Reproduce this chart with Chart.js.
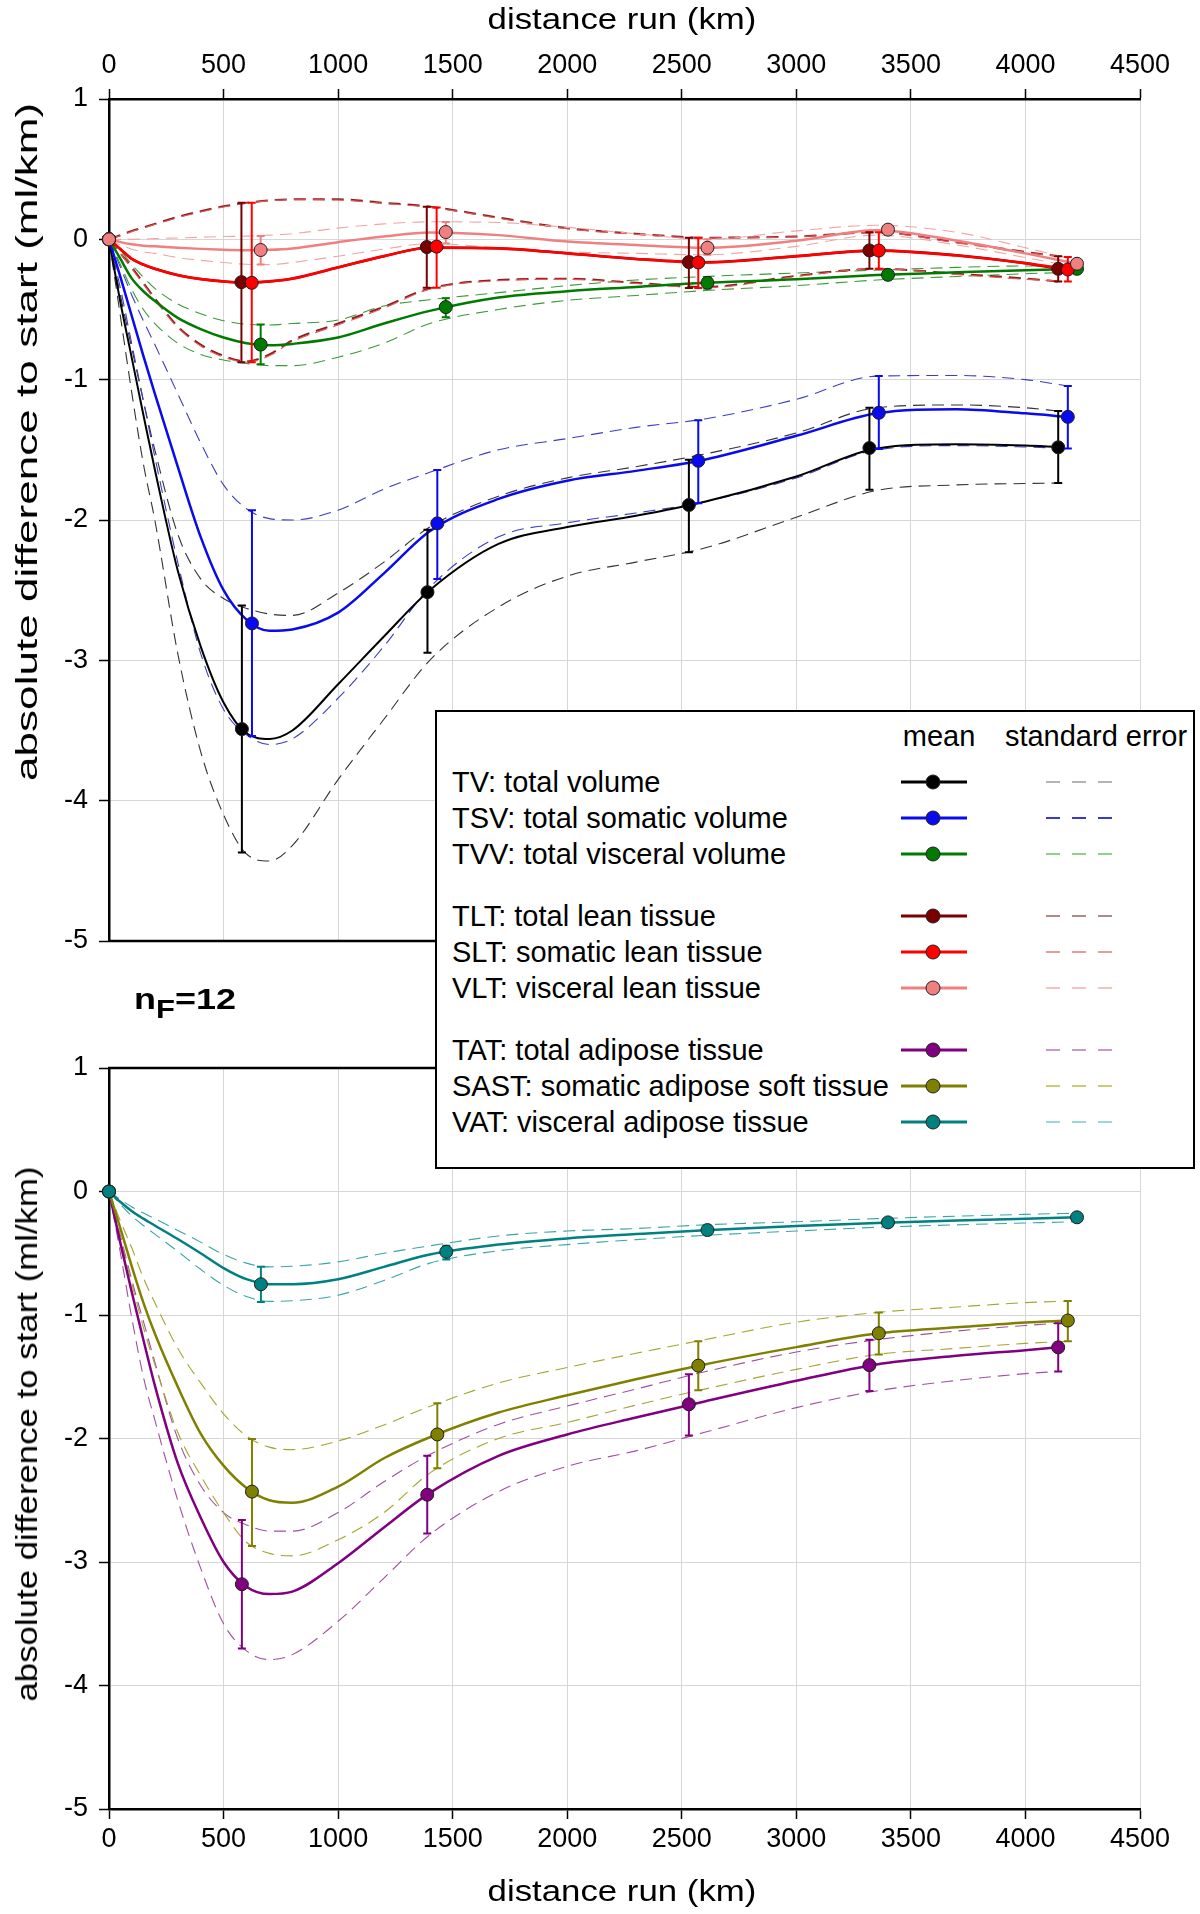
<!DOCTYPE html>
<html>
<head>
<meta charset="utf-8">
<title>distance run</title>
<script src="https://cdn.jsdelivr.net/npm/chart.js@4.4.1/dist/chart.umd.min.js"></script>
<style>
  body { margin: 0; background: #fff; font-family: 'Liberation Sans', Arial, sans-serif; }
  #page { position: relative; width: 1200px; height: 1914px; overflow: hidden; background: #fff; }
  canvas { position: absolute; left: 0; }
  #topChart { top: 0; }
  #bottomChart { top: 960px; }
  .lbl { position: absolute; white-space: nowrap; color: #000; line-height: 1; }
  .xtitle { font-size: 30px; transform: translate(-50%, -50%) scaleX(1.16); }
  .ytitle { font-size: 30px; }
  #legend { position: absolute; left: 435px; top: 710px; width: 756px; height: 455px;
            border: 2px solid #000; background: #fff; z-index: 5; }
  .lg { position: absolute; white-space: nowrap; font-size: 29px; line-height: 1; transform: translateY(-50%); }
  .lg-line { position: absolute; height: 3px; transform: translateY(-50%); }
  .lg-dot { position: absolute; width: 13px; height: 13px; border-radius: 50%; border: 1px solid #222;
            transform: translate(-50%, -50%); }
  .lg-dash { position: absolute; height: 2px; transform: translateY(-50%); }
  #nf { position: absolute; left: 134px; top: 985px; font-size: 29px; font-weight: bold; line-height: 1;
        transform: scaleX(1.24); transform-origin: left center; }
  #nf sub { font-size: 25px; vertical-align: -9px; }
</style>
</head>
<body>
<div id="page">
  <canvas id="topChart" width="1200" height="960"></canvas>
  <canvas id="bottomChart" width="1200" height="954"></canvas>

  <div class="lbl xtitle" style="left:622px; top:19px;">distance run (km)</div>
  <div class="lbl xtitle" style="left:622px; top:1891px;">distance run (km)</div>
  <div class="lbl ytitle" style="left:27px; top:442px; transform: translate(-50%, -50%) rotate(-90deg) scaleX(1.47);">absolute difference to start (ml/km)</div>
  <div class="lbl ytitle" style="left:27px; top:1434px; transform: translate(-50%, -50%) rotate(-90deg) scaleX(1.16);">absolute difference to start (ml/km)</div>
  <div id="nf">n<sub>F</sub>=12</div>

  <div id="legend"></div>
</div>

<script>
// grille commune (km) pour les courbes lissées ; le dernier point = dernière mesure de la série
const kmGrid = [0, 50, 100, 150, 200, 300, 400, 500, 600, 700, 800, 1000, 1200, 1400, 1700, 2000, 2300, 2600, 3000, 3350, 3700, 4000];
const xTicks = [0, 500, 1000, 1500, 2000, 2500, 3000, 3500, 4000, 4500];
const yTicks = [1, 0, -1, -2, -3, -4, -5];

// --- TV: total volume
const tvX      = [0, 580, 1390, 2531, 3319, 4143];
const tvMean   = [0, -3.49, -2.514, -1.893, -1.487, -1.482];
const tvErrHi  = [0, -2.61, -2.07, -1.57, -1.2, -1.224];
const tvErrLo  = [0, -4.37, -2.946, -2.23, -1.785, -1.737];
const tvCurve  = [0, -0.45, -0.85, -1.25, -1.64, -2.36, -2.9, -3.3, -3.52, -3.56, -3.5, -3.17, -2.83, -2.5, -2.17, -2.05, -1.97, -1.87, -1.69, -1.49, -1.46, -1.47, -1.48];
const tvSeHi   = [0, -0.4, -0.78, -1.15, -1.5, -2.1, -2.42, -2.56, -2.63, -2.67, -2.68, -2.52, -2.3, -2.05, -1.83, -1.7, -1.62, -1.53, -1.38, -1.2, -1.18, -1.2, -1.224];
const tvSeLo   = [0, -0.55, -1.1, -1.6, -2.0, -2.95, -3.65, -4.1, -4.38, -4.43, -4.32, -3.85, -3.42, -3.0, -2.62, -2.4, -2.3, -2.2, -1.98, -1.79, -1.75, -1.74, -1.737];

// --- TSV: total somatic volume
const tsvX     = [0, 624, 1433, 2572, 3360, 4185];
const tsvMean  = [0, -2.737, -2.024, -1.578, -1.236, -1.265];
const tsvErrHi = [0, -1.93, -1.643, -1.289, -0.974, -1.045];
const tsvErrLo = [0, -3.54, -2.42, -1.88, -1.494, -1.49];
const tsvCurve = [0, -0.27, -0.55, -0.83, -1.1, -1.62, -2.12, -2.5, -2.71, -2.79, -2.78, -2.66, -2.38, -2.08, -1.85, -1.72, -1.65, -1.57, -1.4, -1.24, -1.21, -1.24, -1.265];
const tsvSeHi  = [0, -0.2, -0.4, -0.58, -0.75, -1.1, -1.45, -1.75, -1.92, -1.99, -2.0, -1.93, -1.78, -1.66, -1.5, -1.42, -1.34, -1.28, -1.14, -0.975, -0.97, -1.0, -1.045];
const tsvSeLo  = [0, -0.35, -0.75, -1.15, -1.55, -2.3, -2.95, -3.35, -3.53, -3.6, -3.56, -3.27, -2.9, -2.48, -2.12, -2.02, -1.95, -1.87, -1.7, -1.5, -1.47, -1.48, -1.49];

// --- TVV: total visceral volume
const tvvX     = [0, 662, 1470, 2612, 3400, 4225];
const tvvMean  = [0, -0.75, -0.483, -0.31, -0.253, -0.21];
const tvvErrHi = [0, -0.607, -0.42, -0.27, -0.22, -0.19];
const tvvErrLo = [0, -0.89, -0.555, -0.35, -0.285, -0.235];
const tvvCurve = [0, -0.14, -0.28, -0.37, -0.44, -0.56, -0.64, -0.7, -0.74, -0.755, -0.745, -0.7, -0.6, -0.51, -0.415, -0.37, -0.34, -0.31, -0.285, -0.255, -0.235, -0.22, -0.21];
const tvvSeHi  = [0, -0.08, -0.18, -0.27, -0.35, -0.46, -0.53, -0.58, -0.605, -0.61, -0.6, -0.575, -0.475, -0.43, -0.38, -0.33, -0.29, -0.265, -0.24, -0.22, -0.2, -0.19, -0.19];
const tvvSeLo  = [0, -0.18, -0.36, -0.5, -0.6, -0.74, -0.82, -0.86, -0.885, -0.9, -0.9, -0.84, -0.74, -0.6, -0.5, -0.435, -0.4, -0.365, -0.33, -0.29, -0.265, -0.245, -0.234];

// --- TLT: total lean tissue
const tltX     = [0, 578, 1387, 2531, 3319, 4143];
const tltMean  = [0, -0.305, -0.055, -0.162, -0.079, -0.21];
const tltErrHi = [0, 0.26, 0.233, 0.012, 0.05, -0.12];
const tltErrLo = [0, -0.876, -0.345, -0.346, -0.21, -0.3];
const tltCurve = [0, -0.07, -0.14, -0.18, -0.21, -0.255, -0.283, -0.3, -0.308, -0.3, -0.28, -0.2, -0.12, -0.058, -0.063, -0.1, -0.14, -0.163, -0.12, -0.079, -0.113, -0.17, -0.21];
const tltSeHi  = [0, 0.03, 0.06, 0.085, 0.11, 0.16, 0.2, 0.235, 0.26, 0.278, 0.285, 0.285, 0.26, 0.233, 0.155, 0.08, 0.04, 0.012, 0.02, 0.05, -0.02, -0.09, -0.12];
const tltSeLo  = [0, -0.1, -0.2, -0.31, -0.42, -0.62, -0.75, -0.83, -0.87, -0.82, -0.72, -0.6, -0.48, -0.35, -0.29, -0.28, -0.31, -0.34, -0.26, -0.21, -0.245, -0.28, -0.3];

// --- SLT: somatic lean tissue
const sltX     = [0, 623, 1430, 2572, 3360, 4185];
const sltMean  = [0, -0.31, -0.052, -0.165, -0.08, -0.215];
const sltErrHi = [0, 0.26, 0.226, 0.012, 0.05, -0.126];
const sltErrLo = [0, -0.876, -0.345, -0.346, -0.21, -0.3];
const sltCurve = [0, -0.07, -0.14, -0.18, -0.21, -0.255, -0.283, -0.3, -0.31, -0.3, -0.28, -0.2, -0.12, -0.06, -0.065, -0.1, -0.14, -0.165, -0.12, -0.08, -0.115, -0.17, -0.215];
const sltSeHi  = [0, 0.025, 0.055, 0.08, 0.105, 0.155, 0.195, 0.23, 0.258, 0.275, 0.282, 0.28, 0.255, 0.228, 0.15, 0.075, 0.035, 0.01, 0.018, 0.048, -0.025, -0.095, -0.126];
const sltSeLo  = [0, -0.1, -0.21, -0.32, -0.43, -0.63, -0.76, -0.84, -0.876, -0.83, -0.73, -0.61, -0.49, -0.355, -0.295, -0.285, -0.315, -0.345, -0.265, -0.21, -0.25, -0.285, -0.3];

// --- VLT: visceral lean tissue
const vltX     = [0, 662, 1470, 2612, 3400, 4225];
const vltMean  = [0, -0.076, 0.052, -0.06, 0.069, -0.174];
const vltErrHi = [0, 0.024, 0.124, 0.0, 0.1, -0.15];
const vltErrLo = [0, -0.18, -0.03, -0.11, 0.03, -0.2];
const vltCurve = [0, -0.02, -0.035, -0.045, -0.05, -0.06, -0.068, -0.074, -0.077, -0.075, -0.065, -0.02, 0.02, 0.048, 0.03, -0.015, -0.04, -0.06, -0.01, 0.065, -0.01, -0.1, -0.174];
const vltSeHi  = [0, 0.0, 0.0, 0.003, 0.005, 0.01, 0.015, 0.02, 0.023, 0.03, 0.04, 0.08, 0.11, 0.125, 0.12, 0.085, 0.04, 0.0, 0.06, 0.1, 0.05, -0.06, -0.15];
const vltSeLo  = [0, -0.04, -0.07, -0.09, -0.1, -0.13, -0.15, -0.165, -0.178, -0.18, -0.165, -0.12, -0.07, -0.03, -0.06, -0.09, -0.1, -0.11, -0.05, 0.03, -0.04, -0.13, -0.2];

// --- TAT: total adipose tissue
const tatX     = [0, 580, 1389, 2531, 3319, 4143];
const tatMean  = [0, -3.18, -2.455, -1.723, -1.406, -1.262];
const tatErrHi = [0, -2.66, -2.14, -1.479, -1.2, -1.066];
const tatErrLo = [0, -3.7, -2.77, -1.976, -1.615, -1.457];
const tatCurve = [0, -0.42, -0.82, -1.2, -1.57, -2.2, -2.64, -3.0, -3.2, -3.26, -3.24, -3.01, -2.72, -2.44, -2.14, -1.967, -1.83, -1.7, -1.533, -1.4, -1.33, -1.285, -1.262];
const tatSeHi  = [0, -0.36, -0.72, -1.05, -1.38, -2.0, -2.38, -2.6, -2.7, -2.75, -2.75, -2.6, -2.35, -2.13, -1.886, -1.737, -1.6, -1.46, -1.3, -1.2, -1.13, -1.085, -1.066];
const tatSeLo  = [0, -0.5, -1.03, -1.5, -1.85, -2.5, -3.05, -3.5, -3.72, -3.79, -3.75, -3.48, -3.13, -2.78, -2.43, -2.225, -2.1, -1.95, -1.75, -1.615, -1.53, -1.475, -1.457];

// --- SAST: somatic adipose soft tissue
const sastX     = [0, 624, 1433, 2572, 3360, 4185];
const sastMean  = [0, -2.43, -1.967, -1.41, -1.148, -1.045];
const sastErrHi = [0, -2.005, -1.715, -1.213, -0.98, -0.887];
const sastErrLo = [0, -2.87, -2.24, -1.61, -1.32, -1.213];
const sastCurve = [0, -0.3, -0.61, -0.9, -1.15, -1.58, -1.96, -2.22, -2.4, -2.5, -2.52, -2.39, -2.16, -1.99, -1.79, -1.65, -1.52, -1.4, -1.26, -1.15, -1.1, -1.06, -1.045];
const sastSeHi  = [0, -0.24, -0.46, -0.7, -0.9, -1.27, -1.55, -1.8, -1.98, -2.07, -2.09, -2.02, -1.89, -1.74, -1.55, -1.425, -1.31, -1.2, -1.058, -0.98, -0.935, -0.9, -0.887];
const sastSeLo  = [0, -0.38, -0.75, -1.1, -1.4, -1.95, -2.3, -2.6, -2.84, -2.93, -2.95, -2.82, -2.6, -2.28, -2.0, -1.87, -1.73, -1.6, -1.44, -1.32, -1.27, -1.23, -1.213];

// --- VAT: visceral adipose tissue
const vatX     = [0, 663, 1472, 2612, 3400, 4225];
const vatMean  = [0, -0.751, -0.488, -0.312, -0.25, -0.209];
const vatErrHi = [0, -0.61, -0.44, -0.28, -0.225, -0.19];
const vatErrLo = [0, -0.894, -0.55, -0.345, -0.275, -0.23];
const vatCurve = [0, -0.085, -0.16, -0.22, -0.275, -0.385, -0.5, -0.62, -0.71, -0.75, -0.75, -0.71, -0.61, -0.51, -0.43, -0.38, -0.345, -0.313, -0.28, -0.255, -0.235, -0.22, -0.209];
const vatSeHi  = [0, -0.065, -0.125, -0.175, -0.22, -0.315, -0.41, -0.51, -0.58, -0.61, -0.605, -0.57, -0.5, -0.44, -0.36, -0.32, -0.3, -0.27, -0.245, -0.22, -0.2, -0.185, -0.176];
const vatSeLo  = [0, -0.105, -0.2, -0.275, -0.345, -0.485, -0.63, -0.76, -0.85, -0.89, -0.885, -0.84, -0.72, -0.58, -0.48, -0.43, -0.39, -0.355, -0.32, -0.29, -0.27, -0.255, -0.245];

const legendLabels = [
  'TV: total volume', 'TSV: total somatic volume', 'TVV: total visceral volume',
  'TLT: total lean tissue', 'SLT: somatic lean tissue', 'VLT: visceral lean tissue',
  'TAT: total adipose tissue', 'SAST: somatic adipose soft tissue', 'VAT: visceral adipose tissue'
];

// styles (couleurs / traits) séparés des données
const topSeries = [
  { x: tvX,  mean: tvMean,  hi: tvErrHi,  lo: tvErrLo,  curve: tvCurve,  seHi: tvSeHi,  seLo: tvSeLo,  color: '#000000', se: '#333333', seW: 1.1, lgSe: '#b4b4b4', lw: 2 },
  { x: tsvX, mean: tsvMean, hi: tsvErrHi, lo: tsvErrLo, curve: tsvCurve, seHi: tsvSeHi, seLo: tsvSeLo, color: '#0a0aee', se: '#3c3cc8', seW: 1.1, lgSe: '#3a3ad0', lw: 2.5 },
  { x: tvvX, mean: tvvMean, hi: tvvErrHi, lo: tvvErrLo, curve: tvvCurve, seHi: tvvSeHi, seLo: tvvSeLo, color: '#007a00', se: '#3a9a3a', seW: 1.1, lgSe: '#8fd08f', lw: 2.5 },
  { x: tltX, mean: tltMean, hi: tltErrHi, lo: tltErrLo, curve: tltCurve, seHi: tltSeHi, seLo: tltSeLo, color: '#7a0000', se: '#8c2020', seW: 2, lgSe: '#b08a8a', lw: 2.5 },
  { x: sltX, mean: sltMean, hi: sltErrHi, lo: sltErrLo, curve: sltCurve, seHi: sltSeHi, seLo: sltSeLo, color: '#ff0000', se: '#e65a5a', seW: 1.1, lgSe: '#eb9a9a', lw: 2.7 },
  { x: vltX, mean: vltMean, hi: vltErrHi, lo: vltErrLo, curve: vltCurve, seHi: vltSeHi, seLo: vltSeLo, color: '#f08080', se: '#f3a5a5', seW: 1.1, lgSe: '#f3c3c3', lw: 2.5 }
];
const bottomSeries = [
  { x: tatX,  mean: tatMean,  hi: tatErrHi,  lo: tatErrLo,  curve: tatCurve,  seHi: tatSeHi,  seLo: tatSeLo,  color: '#800080', se: '#a050a0', seW: 1.1, lgSe: '#c89ac8', lw: 2.5 },
  { x: sastX, mean: sastMean, hi: sastErrHi, lo: sastErrLo, curve: sastCurve, seHi: sastSeHi, seLo: sastSeLo, color: '#808000', se: '#a5a530', seW: 1.1, lgSe: '#cccc70', lw: 2.5 },
  { x: vatX,  mean: vatMean,  hi: vatErrHi,  lo: vatErrLo,  curve: vatCurve,  seHi: vatSeHi,  seLo: vatSeLo,  color: '#008080', se: '#3aa5a5', seW: 1.1, lgSe: '#9ad8d8', lw: 2.5 }
];

Chart.defaults.font.family = "'Liberation Sans', Arial, sans-serif";
Chart.defaults.color = '#000';

// barres d'erreur dessinées juste avant les marqueurs
const errorBarPlugin = {
  id: 'errorBars',
  beforeDatasetDraw(chart, args) {
    const ds = chart.data.datasets[args.index];
    if (!ds.errHi) return;
    const ctx = chart.ctx;
    const xs = chart.scales.x, ys = chart.scales.y;
    ctx.save();
    ctx.strokeStyle = ds.barColor;
    ctx.lineWidth = 2;
    ds.data.forEach((p, i) => {
      if (ds.errHi[i] === ds.errLo[i]) return;
      const px = xs.getPixelForValue(p.x);
      const yHi = ys.getPixelForValue(ds.errHi[i]);
      const yLo = ys.getPixelForValue(ds.errLo[i]);
      ctx.beginPath();
      ctx.moveTo(px, yHi); ctx.lineTo(px, yLo);
      ctx.moveTo(px - 4, yHi); ctx.lineTo(px + 4, yHi);
      ctx.moveTo(px - 4, yLo); ctx.lineTo(px + 4, yLo);
      ctx.stroke();
    });
    ctx.restore();
  }
};

// lignes noires du cadre qui ne sont pas des axes
const framePlugin = {
  id: 'frameLines',
  afterDraw(chart, args, opts) {
    const ctx = chart.ctx, a = chart.chartArea;
    ctx.save();
    ctx.strokeStyle = '#000';
    ctx.lineWidth = 2.5;
    (opts.sides || []).forEach(side => {
      const yy = side === 'top' ? a.top : a.bottom;
      ctx.beginPath();
      ctx.moveTo(a.left - 1, yy);
      ctx.lineTo(a.right + 1, yy);
      ctx.stroke();
    });
    ctx.restore();
  }
};

function curveData(xs, values) {
  const grid = kmGrid.concat([xs[xs.length - 1]]);
  return grid.map((x, i) => ({ x: x, y: values[i] }));
}

function buildDatasets(series) {
  const out = [];
  series.forEach((s, i) => {
    const lineBase = { showLine: true, pointRadius: 0, cubicInterpolationMode: 'monotone', fill: false };
    out.push(Object.assign({}, lineBase, { data: curveData(s.x, s.seHi), borderColor: s.se, borderWidth: s.seW, borderDash: [12, 7], order: 3 - i * 0.01 }));
    out.push(Object.assign({}, lineBase, { data: curveData(s.x, s.seLo), borderColor: s.se, borderWidth: s.seW, borderDash: [12, 7], order: 3 - i * 0.01 }));
    out.push(Object.assign({}, lineBase, { data: curveData(s.x, s.curve), borderColor: s.color, borderWidth: s.lw, order: 2 - i * 0.01 }));
    out.push({
      data: s.x.map((x, k) => ({ x: x, y: s.mean[k] })),
      showLine: false,
      pointRadius: 6.5,
      pointBackgroundColor: s.color,
      pointBorderColor: '#1e1e1e',
      pointBorderWidth: 1,
      errHi: s.hi, errLo: s.lo, barColor: s.color,
      clip: false,
      order: 1 - i * 0.01
    });
  });
  return out;
}

function makeOptions(xPos, xHeight, pad, sides) {
  return {
    responsive: false,
    animation: false,
    events: [],
    layout: { padding: pad },
    plugins: { legend: { display: false }, tooltip: { enabled: false }, frameLines: { sides: sides } },
    scales: {
      x: {
        type: 'linear', position: xPos, min: 0, max: 4500,
        afterBuildTicks: s => { s.ticks = xTicks.map(v => ({ value: v })); },
        ticks: { font: { size: 27 }, color: '#000', padding: xPos === 'top' ? 7 : 4, maxRotation: 0, callback: v => String(v) },
        grid: { color: '#d6d6d6', lineWidth: 1, tickColor: '#000', tickLength: 10, tickWidth: 1.5 },
        border: { color: '#000', width: 2.5 },
        afterFit: s => { s.height = xHeight; s.paddingLeft = 0; s.paddingRight = 0; }
      },
      y: {
        type: 'linear', min: -5, max: 1,
        afterBuildTicks: s => { s.ticks = yTicks.map(v => ({ value: v })); },
        ticks: { font: { size: 27 }, color: '#000', padding: 11, callback: v => String(v) },
        grid: { color: '#d6d6d6', lineWidth: 1, tickColor: '#000', tickLength: 10, tickWidth: 1.5 },
        border: { color: '#000', width: 2.5 },
        afterFit: s => { s.width = 109; s.paddingTop = 0; s.paddingBottom = 0; }
      }
    }
  };
}

new Chart(document.getElementById('topChart'), {
  type: 'scatter',
  data: { datasets: buildDatasets(topSeries) },
  options: makeOptions('top', 99, { left: 0, right: 60, top: 0, bottom: 19 }, ['bottom']),
  plugins: [errorBarPlugin, framePlugin]
});

new Chart(document.getElementById('bottomChart'), {
  type: 'scatter',
  data: { datasets: buildDatasets(bottomSeries) },
  options: makeOptions('bottom', 105, { left: 0, right: 60, top: 108, bottom: 0 }, ['top']),
  plugins: [errorBarPlugin, framePlugin]
});

// légende en HTML
const legend = document.getElementById('legend');
const lgLeft = 435, lgTop = 710;
const rowY = [782, 818, 854, 916, 952, 988, 1050, 1086, 1122];
const allSeries = topSeries.concat(bottomSeries);
function addEl(cls, x, y, css, text) {
  const el = document.createElement('div');
  el.className = cls;
  el.style.left = (x - lgLeft - 2) + 'px';
  el.style.top = (y - lgTop - 2) + 'px';
  if (css) Object.assign(el.style, css);
  if (text) el.textContent = text;
  legend.appendChild(el);
  return el;
}
addEl('lg', 939, 736, { transform: 'translate(-50%, -50%)' }, 'mean');
addEl('lg', 1096, 736, { transform: 'translate(-50%, -50%)' }, 'standard error');
allSeries.forEach((s, i) => {
  const y = rowY[i];
  addEl('lg', 452, y, null, legendLabels[i]);
  addEl('lg-line', 901, y, { width: '66px', background: s.color });
  addEl('lg-dot', 933, y, { background: s.color });
  addEl('lg-dash', 1046, y, { width: '74px',
    background: 'repeating-linear-gradient(90deg, ' + s.lgSe + ' 0 14px, transparent 14px 26px)' });
});
</script>
</body>
</html>
